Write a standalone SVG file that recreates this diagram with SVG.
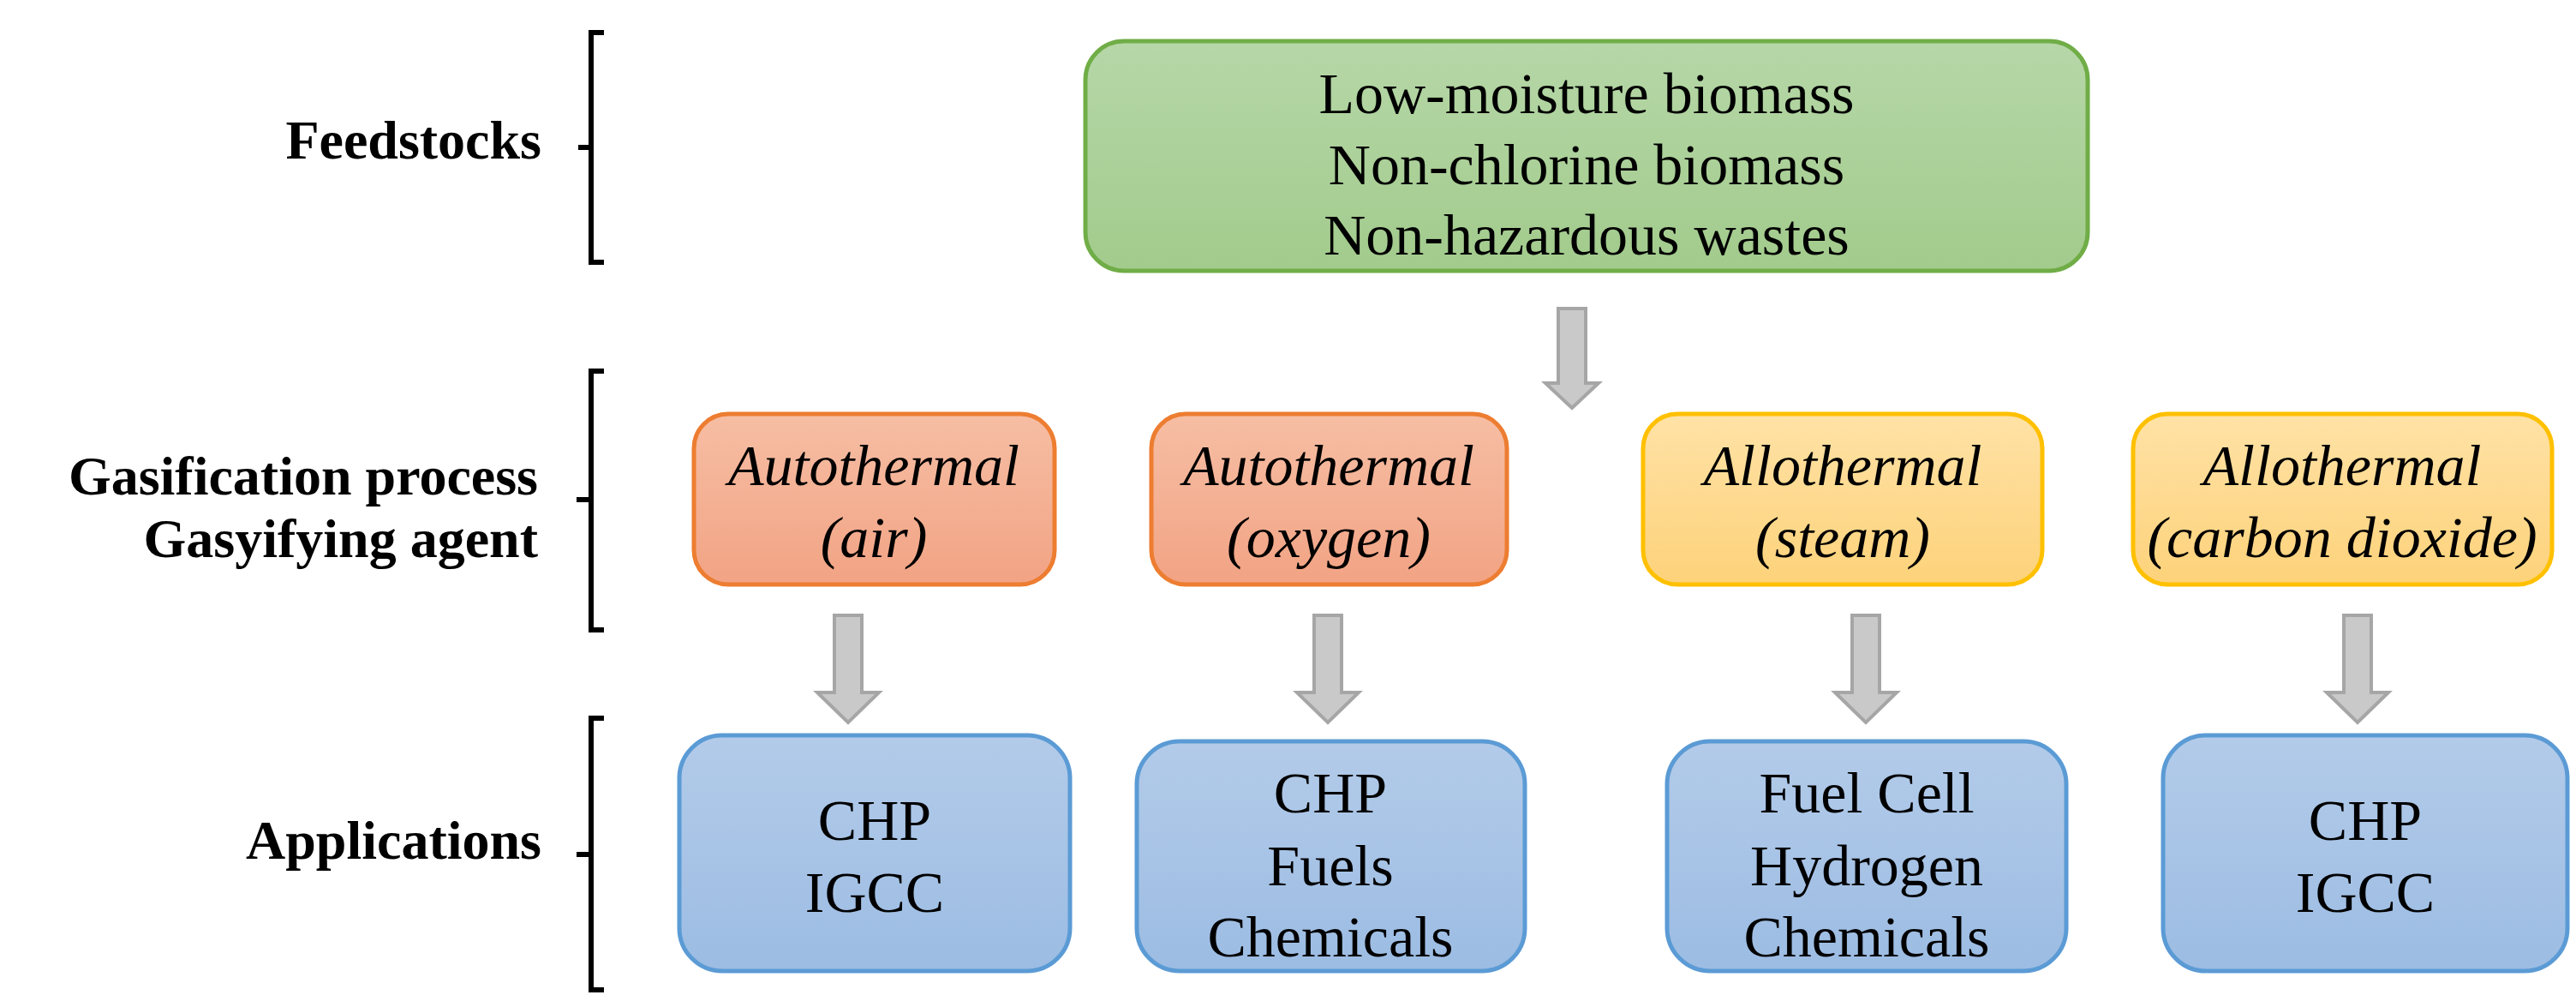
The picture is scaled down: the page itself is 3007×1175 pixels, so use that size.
<svg xmlns="http://www.w3.org/2000/svg" width="3007" height="1175" viewBox="0 0 3007 1175">
<defs>
<linearGradient id="gG" x1="0" y1="0" x2="0" y2="1"><stop offset="0" stop-color="#b6d7a8"/><stop offset="1" stop-color="#a2cb8c"/></linearGradient>
<linearGradient id="gO" x1="0" y1="0" x2="0" y2="1"><stop offset="0" stop-color="#f6bea4"/><stop offset="1" stop-color="#f2a384"/></linearGradient>
<linearGradient id="gY" x1="0" y1="0" x2="0" y2="1"><stop offset="0" stop-color="#ffe2a6"/><stop offset="1" stop-color="#fdd27a"/></linearGradient>
<linearGradient id="gB" x1="0" y1="0" x2="0" y2="1"><stop offset="0" stop-color="#b3cbe9"/><stop offset="1" stop-color="#9cbce3"/></linearGradient>
<path id="arr" d="M-16,0 H16 V90 H36 L0,125 L-36,90 H-16 Z"/>
</defs>
<style>
.t{font-family:"Liberation Serif","DejaVu Serif",serif;font-size:68px;fill:#000;text-anchor:middle}
.i{font-style:italic}
.lab{font-family:"Liberation Serif","DejaVu Serif",serif;font-size:64px;font-weight:bold;fill:#000;text-anchor:end}
.br{fill:none;stroke:#000;stroke-width:6}
.g{fill:url(#gG);stroke:#70ad47;stroke-width:5}
.o{fill:url(#gO);stroke:#ed7d31;stroke-width:5}
.y{fill:url(#gY);stroke:#ffc000;stroke-width:5}
.b{fill:url(#gB);stroke:#5b9bd5;stroke-width:5}
.a{fill:#c9c9c9;stroke:#a6a6a6;stroke-width:4}
</style>
<rect width="3007" height="1175" fill="#fff"/>
<g id="labels">
<text class="lab" x="632" y="185">Feedstocks</text>
<text class="lab" x="628" y="577">Gasification process</text>
<text class="lab" x="628" y="650">Gasyifying agent</text>
<text class="lab" x="632" y="1002">Applications</text>
</g>
<g id="brackets">
<path class="br" d="M705,38 H690 V306 H705 M675,172 H690"/>
<path class="br" d="M705,433 H690 V735 H705 M673,583 H690"/>
<path class="br" d="M705,838 H690 V1155 H705 M673,997 H690"/>
</g>
<g id="feed"><rect class="g" x="1267" y="48" width="1170" height="268" rx="45"/>
<text class="t" x="1852" y="132">Low-moisture biomass</text>
<text class="t" x="1852" y="215">Non-chlorine biomass</text>
<text class="t" x="1852" y="297">Non-hazardous wastes</text></g>
<g id="p1"><rect class="o" x="810" y="483" width="421" height="199" rx="40"/>
<text class="t i" x="1020" y="566">Autothermal</text><text class="t i" x="1020" y="650">(air)</text></g>
<g id="p2"><rect class="o" x="1344" y="483" width="415" height="199" rx="40"/>
<text class="t i" x="1551" y="566">Autothermal</text><text class="t i" x="1551" y="650">(oxygen)</text></g>
<g id="p3"><rect class="y" x="1918" y="483" width="466" height="199" rx="40"/>
<text class="t i" x="2151" y="566">Allothermal</text><text class="t i" x="2151" y="650">(steam)</text></g>
<g id="p4"><rect class="y" x="2490" y="483" width="489" height="199" rx="40"/>
<text class="t i" x="2734" y="566">Allothermal</text><text class="t i" x="2734" y="650">(carbon dioxide)</text></g>
<g id="a1"><rect class="b" x="793" y="858" width="456" height="275" rx="50"/>
<text class="t" x="1021" y="980">CHP</text><text class="t" x="1021" y="1064">IGCC</text></g>
<g id="a2"><rect class="b" x="1327" y="865" width="453" height="268" rx="50"/>
<text class="t" x="1553" y="948">CHP</text><text class="t" x="1553" y="1033">Fuels</text><text class="t" x="1553" y="1116">Chemicals</text></g>
<g id="a3"><rect class="b" x="1946" y="865" width="466" height="268" rx="50"/>
<text class="t" x="2179" y="948">Fuel Cell</text><text class="t" x="2179" y="1033">Hydrogen</text><text class="t" x="2179" y="1116">Chemicals</text></g>
<g id="a4"><rect class="b" x="2525" y="858" width="472" height="275" rx="50"/>
<text class="t" x="2761" y="980">CHP</text><text class="t" x="2761" y="1064">IGCC</text></g>
<g id="connectors">
<path class="a" d="M1819,360 H1851 V447 H1866 L1835,476 L1804,447 H1819 Z"/>
<use href="#arr" class="a" transform="translate(990,718)"/>
<use href="#arr" class="a" transform="translate(1550,718)"/>
<use href="#arr" class="a" transform="translate(2178,718)"/>
<use href="#arr" class="a" transform="translate(2752,718)"/>
</g>
</svg>
